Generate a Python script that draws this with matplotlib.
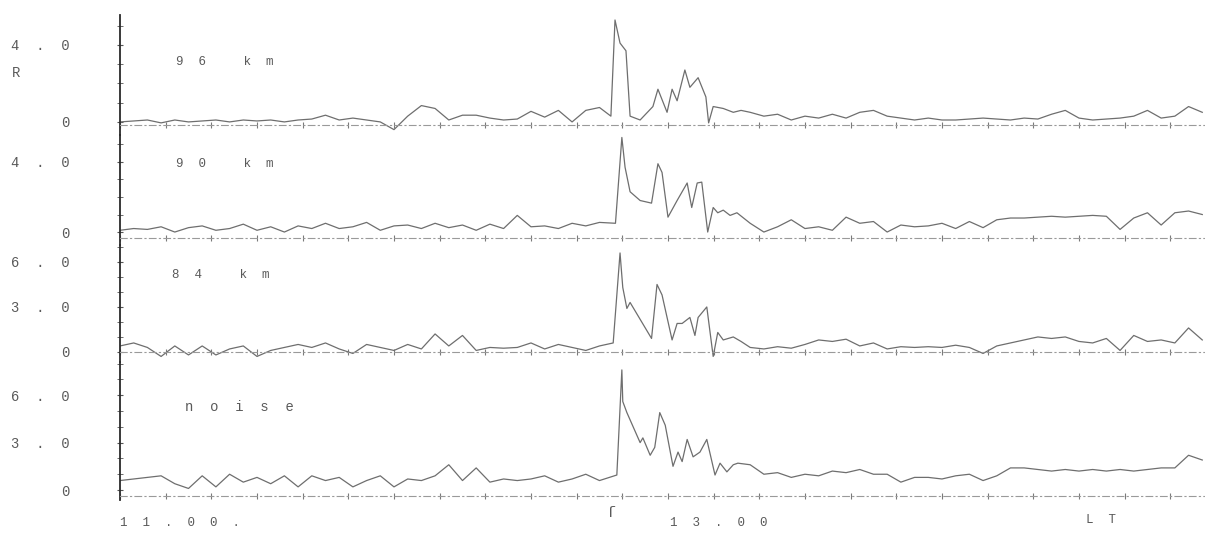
import numpy as np
import matplotlib.pyplot as plt
from matplotlib.ticker import MultipleLocator

# time in minutes after 11:00 LT
t_pre = np.arange(0, 106, 3)
t_post = np.arange(138, 238, 3)

# 96 km
r96_pre = [0.0, 0.05, 0.1, -0.05, 0.1, 0.0, 0.05, 0.1, 0.0, 0.1, 0.05, 0.1,
           0.0, 0.1, 0.15, 0.35, 0.1, 0.2, 0.1, 0.0, -0.4, 0.3, 0.85, 0.7,
           0.1, 0.35, 0.35, 0.2, 0.1, 0.15, 0.55, 0.25, 0.6, 0.0, 0.6, 0.75]
t96_evt = [107.5, 108.4, 109.5, 110.8, 111.7, 113.9, 116.7, 117.8, 119.8, 120.9,
           122.0, 123.7, 124.8, 126.6, 128.3, 128.9, 129.9, 132.1, 134.3, 136.0]
r96_evt = [0.3, 5.3, 4.1, 3.7, 0.3, 0.1, 0.8, 1.7, 0.5, 1.7,
           1.1, 2.7, 1.8, 2.3, 1.3, -0.05, 0.8, 0.7, 0.5, 0.6]
r96_post = [0.5, 0.3, 0.4, 0.1, 0.3, 0.2, 0.4, 0.2, 0.5, 0.6, 0.3, 0.2,
            0.1, 0.2, 0.1, 0.1, 0.15, 0.2, 0.15, 0.1, 0.2, 0.15, 0.4, 0.6,
            0.2, 0.1, 0.15, 0.2, 0.3, 0.6, 0.2, 0.3, 0.8, 0.5]

# 90 km
r90_pre = [0.1, 0.2, 0.15, 0.3, 0.0, 0.25, 0.35, 0.1, 0.2, 0.45, 0.1, 0.3,
           0.0, 0.35, 0.2, 0.5, 0.2, 0.3, 0.55, 0.1, 0.35, 0.4, 0.2, 0.5,
           0.25, 0.4, 0.1, 0.45, 0.2, 0.95, 0.3, 0.35, 0.2, 0.5, 0.35, 0.55]
t90_evt = [108.5, 109.9, 110.6, 111.7, 113.9, 116.4, 117.8, 118.7, 120.0, 122.0,
           124.2, 125.2, 126.4, 127.4, 128.7, 129.9, 130.9, 132.1, 133.6, 135.1]
r90_evt = [0.5, 5.4, 3.7, 2.3, 1.8, 1.65, 3.9, 3.4, 0.85, 1.8,
           2.8, 1.4, 2.8, 2.85, 0.0, 1.4, 1.1, 1.25, 0.95, 1.1]
r90_post = [0.5, 0.0, 0.3, 0.7, 0.2, 0.3, 0.1, 0.85, 0.5, 0.6, 0.0, 0.4,
            0.3, 0.35, 0.5, 0.2, 0.6, 0.25, 0.7, 0.8, 0.8, 0.85, 0.9, 0.85,
            0.9, 0.95, 0.9, 0.15, 0.8, 1.1, 0.4, 1.1, 1.2, 1.0]

# 84 km
r84_pre = [0.4, 0.6, 0.3, -0.3, 0.4, -0.2, 0.4, -0.2, 0.2, 0.4, -0.3, 0.1,
           0.3, 0.5, 0.3, 0.6, 0.2, -0.1, 0.5, 0.3, 0.1, 0.5, 0.2, 1.2,
           0.4, 1.1, 0.1, 0.3, 0.25, 0.3, 0.6, 0.2, 0.5, 0.3, 0.1, 0.4]
t84_evt = [108.0, 109.5, 110.1, 111.0, 111.7, 116.4, 117.6, 118.7, 120.9, 122.0,
           123.1, 124.8, 125.9, 126.6, 128.5, 129.9, 130.9, 132.1, 134.3, 136.0]
r84_evt = [0.6, 6.6, 4.3, 2.9, 3.3, 0.9, 4.5, 3.8, 0.8, 1.9,
           1.9, 2.3, 1.1, 2.3, 3.0, -0.3, 1.3, 0.8, 1.0, 0.7]
r84_post = [0.3, 0.2, 0.35, 0.25, 0.5, 0.8, 0.7, 0.85, 0.4, 0.6, 0.2, 0.35,
            0.3, 0.35, 0.3, 0.45, 0.3, -0.1, 0.4, 0.6, 0.8, 1.0, 0.9, 1.0,
            0.7, 0.6, 0.9, 0.1, 1.1, 0.7, 0.8, 0.6, 1.6, 0.8]

# noise
rn_pre = [0.6, 0.7, 0.8, 0.9, 0.4, 0.1, 0.9, 0.2, 1.0, 0.5, 0.8, 0.4,
          0.9, 0.2, 0.9, 0.6, 0.8, 0.2, 0.6, 0.9, 0.2, 0.7, 0.6, 0.9,
          1.6, 0.6, 1.4, 0.5, 0.7, 0.6, 0.7, 0.9, 0.5, 0.7, 1.0, 0.6]
tn_evt = [108.8, 109.9, 110.1, 111.0, 113.9, 114.5, 116.1, 117.1, 118.2, 119.4, 121.1,
          122.2, 123.1, 124.2, 125.5, 127.0, 128.5, 130.3, 131.4, 132.9, 134.3, 135.3]
rn_evt = [0.95, 7.6, 5.6, 4.9, 3.0, 3.3, 2.2, 2.7, 4.9, 4.1, 1.5,
          2.4, 1.8, 3.2, 2.1, 2.4, 3.2, 0.95, 1.7, 1.15, 1.6, 1.7]
rn_post = [1.6, 1.0, 1.1, 0.8, 1.0, 0.9, 1.2, 1.1, 1.3, 1.0, 1.0, 0.5,
           0.8, 0.8, 0.7, 0.9, 1.0, 0.6, 0.9, 1.4, 1.4, 1.3, 1.2, 1.3,
           1.2, 1.3, 1.2, 1.3, 1.2, 1.3, 1.4, 1.4, 2.2, 1.9]

panels = [
    ("9  6     k  m", r96_pre, t96_evt, r96_evt, r96_post),
    ("9  0     k  m", r90_pre, t90_evt, r90_evt, r90_post),
    ("8  4     k  m", r84_pre, t84_evt, r84_evt, r84_post),
    ("n  o  i  s  e", rn_pre, tn_evt, rn_evt, rn_post),
]
ylims = [(-0.68, 5.56), (-0.74, 5.54), (-0.67, 7.13), (-0.63, 8.1)]
yticks = [[0, 4], [0, 4], [0, 3, 6], [0, 3, 6]]
ylabels = [["0", "4  .  0"], ["0", "4  .  0"], ["0", "3  .  0", "6  .  0"], ["0", "3  .  0", "6  .  0"]]
base = [-0.15, -0.35, 0.0, -0.4]
# axes boxes in pixels (top, bottom)
boxes = [(15, 135), (135, 245), (245, 362), (362, 500)]

W, H = 1205, 533
fig = plt.figure(figsize=(W / 100, H / 100), dpi=100)
mono = "Liberation Mono"
txt = "#5a5a5a"
line = "#6e6e6e"

for i, (name, pre, te, ve, post) in enumerate(panels):
    top, bot = boxes[i]
    ax = fig.add_axes([120 / W, (H - bot) / H, (W - 120) / W, (bot - top) / H])
    t = np.concatenate([t_pre, te, t_post])
    v = np.concatenate([pre, ve, post])
    ax.plot(t, v, color=line, lw=0.9)
    ax.set_xlim(0, 237.6)
    ax.set_ylim(*ylims[i])
    for s in ["top", "right"]:
        ax.spines[s].set_visible(False)
    ax.spines["left"].set_color("#2a2a2a")
    ax.spines["left"].set_linewidth(1.3)
    ax.spines["bottom"].set_position(("data", base[i]))
    ax.spines["bottom"].set_color("#9a9a9a")
    ax.spines["bottom"].set_linestyle((0, (6, 3, 1, 3)))
    ax.spines["bottom"].set_linewidth(0.8)
    ax.xaxis.set_major_locator(MultipleLocator(10))
    ax.tick_params(axis="x", direction="inout", length=4, color="#7a7a7a", labelbottom=False)
    ax.set_yticks(yticks[i])
    ax.set_yticklabels(ylabels[i], fontfamily=mono, fontsize=10, color=txt)
    ax.yaxis.set_minor_locator(MultipleLocator(1))
    ax.tick_params(axis="y", which="both", direction="inout", length=4, color="#555555", pad=34)
    ax.patch.set_alpha(0)
    if i == 2:
        ax.axhline(-0.87, color="#9a9a9a", lw=0.8, ls=(0, (6, 3, 1, 3)))

def ftext(x, y, s, **kw):
    fig.text(x / W, 1 - y / H, s, fontfamily=mono, color=txt, va="center", **kw)

ftext(176, 62, panels[0][0], fontsize=9)
ftext(176, 164, panels[1][0], fontsize=9)
ftext(172, 275, panels[2][0], fontsize=9)
ftext(185, 407, panels[3][0], fontsize=10)
ftext(12, 73, "R", fontsize=10)

ftext(120, 523, "1  1  .  0  0  .", fontsize=9)
ftext(670, 523, "1  3  .  0  0", fontsize=9)
ftext(1086, 520, "L  T", fontsize=9)
ftext(607, 513, "ſ", fontsize=11)

fig.savefig("out.png", dpi=100)
